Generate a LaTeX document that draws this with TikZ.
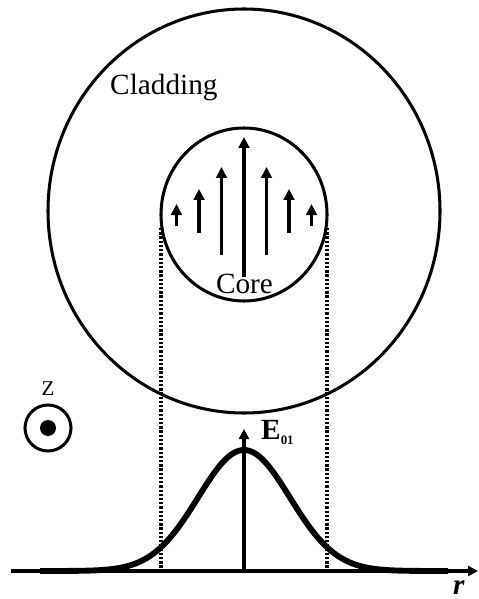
\documentclass[tikz,border=0pt]{standalone}
\usepackage{fontspec}
\setmainfont{Liberation Serif}
\usetikzlibrary{arrows.meta,positioning}

\begin{document}
\begin{tikzpicture}[x=0.03cm,y=-0.03cm,
    ring/.style={line width=2.6pt},
    efield/.style={-{Triangle[length=3.3mm,width=3.2mm]},line width=3.1pt},
    axis/.style={-{Triangle[length=3mm,width=3mm]},line width=2.7pt},
    guide/.style={line width=2.6pt,dash pattern=on 2pt off 1.6pt},
    lbl/.style={font=\fontsize{25}{25}\selectfont,inner sep=0pt}
  ]
  \useasboundingbox (0,0) rectangle (478,599);
  % fibre cross-section
  \draw[ring] (244,211) ellipse [x radius=196,y radius=202];
  \draw[ring] (244,214.5) ellipse [x radius=83,y radius=86.5];
  \node[lbl,anchor=base west] (cladding) at (110,94.3) {Cladding};
  % field arrows in the core
  \foreach \k/\ybot/\ytop in {-3/225.7/204,-2/233/189,-1/255/167,0/277/137,1/255/167,2/233/189,3/225.7/204}
    \draw[efield] ({244+22.5*\k},\ybot) -- ({244+22.5*\k},\ytop);
  \node[lbl,anchor=base] (core) at (244.5,293) {Core};
  % propagation direction
  \node[circle,draw,line width=2.6pt,minimum size=1.38cm,inner sep=0pt] (zaxis) at (48,428) {};
  \fill (zaxis.center) circle [radius=8];
  \node[font=\fontsize{18}{18}\selectfont,inner sep=0pt,above=2.3mm of zaxis] (zlabel) {Z};
  % core edges projected on the profile
  \foreach \xg in {161,327}
    \draw[guide] (\xg,228) -- (\xg,571);
  % mode profile
  \coordinate (rstart) at (11,571);
  \coordinate (rend) at (478,571);
  \coordinate (origin) at (244,571);
  \coordinate (etop) at (244,429);
  \draw[axis] (rstart) -- (rend);
  \draw[line width=5pt,smooth] plot[domain=-204:204,samples=120]
    ({244+\x},{571-121*exp(-0.5*(\x/46)^2)});
  \draw[axis] (origin) -- (etop);
  \node[inner sep=0pt,anchor=base west,font=\fontsize{25}{25}\selectfont\bfseries] (elabel) at (261,439.5)
    {E\raisebox{-0.16cm}{\fontsize{11}{11}\selectfont 01}};
  \node[lbl,anchor=base west] (rlabel) at (453,594) {\textbf{\textit{r}}};
\end{tikzpicture}
\end{document}
